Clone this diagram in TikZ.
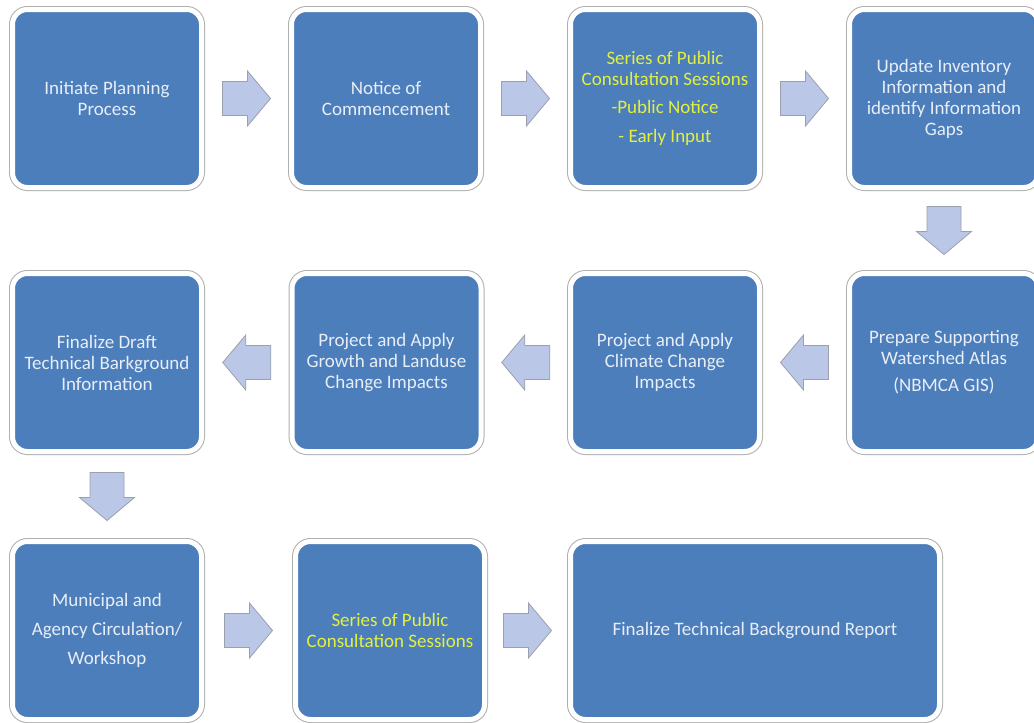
\documentclass[tikz,border=0pt]{standalone}
\usepackage{fontspec}
\setmainfont{Carlito}
\usetikzlibrary{calc}
\definecolor{boxblue}{RGB}{76,126,187}
\definecolor{txtwhite}{RGB}{232,238,247}
\definecolor{txtyellow}{RGB}{228,240,62}
\definecolor{arrfill}{RGB}{186,199,230}
\definecolor{arrline}{RGB}{155,160,175}
\definecolor{rimgray}{RGB}{175,175,175}
\tikzset{
  stepbox/.style={rounded corners=15pt, fill=boxblue, draw=white, line width=5pt,
    preaction={draw=rimgray, line width=7pt},
    minimum width=189pt, minimum height=178pt, inner sep=0pt, align=center,
    text=txtwhite, font=\fontsize{19}{21}\selectfont},
  widebox/.style={stepbox, minimum width=369pt},
  yellowtxt/.style={text=txtyellow},
  blockarr/.style={fill=arrfill, draw=arrline, line width=0.8pt, line join=miter}
}
\newcommand\blockarrow[2]{%
  \draw[blockarr, shift={#1}, rotate=#2]
    (-24,-17) -- (1,-17) -- (1,-27.5) -- (24,0) -- (1,27.5) -- (1,17) -- (-24,17) -- cycle;}
\begin{document}
\begin{tikzpicture}[x=1pt,y=-1pt]
\clip (0,0) rectangle (1034,723);
\fill[white] (0,0) rectangle (1034,723);
% row 1
\node[stepbox] (n1) at (107,98.5) {Initiate Planning\\Process};
\node[stepbox] (n2) at (386,98.5) {Notice of\\Commencement};
\node[stepbox, yellowtxt] (n3) at (665,98.5) {Series of Public\\Consultation Sessions\\[7pt]-Public Notice\\[8pt]- Early Input};
\node[stepbox] (n4) at (944,98.5) {Update Inventory\\Information and\\identify Information\\Gaps};
% row 2
\node[stepbox] (n5) at (944,362.5) {Prepare Supporting\\Watershed Atlas\\[6pt](NBMCA GIS)};
\node[stepbox] (n6) at (665,362.5) {Project and Apply\\Climate Change\\Impacts};
\node[stepbox] (n7) at (386.5,362.5) {Project and Apply\\Growth and Landuse\\Change Impacts};
\node[stepbox] (n8) at (107,362.5) {Finalize Draft\\Technical Barkground\\Information};
% row 3
\node[stepbox] (n9) at (107,630.5) {Municipal and\\[8pt]Agency Circulation/\\[8pt]Workshop};
\node[stepbox, yellowtxt] (n10) at (390,630.5) {Series of Public\\Consultation Sessions};
\node[widebox] (n11) at (755,630.5) {Finalize Technical Background Report};
% connectors (block arrows)
\coordinate (a12) at ($(n1.east)!0.5!(n2.west)$);
\coordinate (a23) at ($(n2.east)!0.5!(n3.west)$);
\coordinate (a34) at ($(n3.east)!0.5!(n4.west)$);
\coordinate (a45) at ($(n4.south)!0.5!(n5.north)$);
\coordinate (a56) at ($(n5.west)!0.5!(n6.east)$);
\coordinate (a67) at ($(n6.west)!0.5!(n7.east)$);
\coordinate (a78) at ($(n7.west)!0.5!(n8.east)$);
\coordinate (a89) at ($(n8.south)!0.5!(n9.north)$);
\coordinate (a910) at ($(n9.east)!0.5!(n10.west)$);
\coordinate (a1011) at ($(n10.east)!0.5!(n11.west)$);
\blockarrow{(a12)}{0}
\blockarrow{(a23)}{0}
\blockarrow{(a34)}{0}
\blockarrow{(a45)}{-90}
\blockarrow{(a56)}{180}
\blockarrow{(a67)}{180}
\blockarrow{(a78)}{180}
\blockarrow{(a89)}{-90}
\blockarrow{(a910)}{0}
\blockarrow{(a1011)}{0}
\end{tikzpicture}
\end{document}
